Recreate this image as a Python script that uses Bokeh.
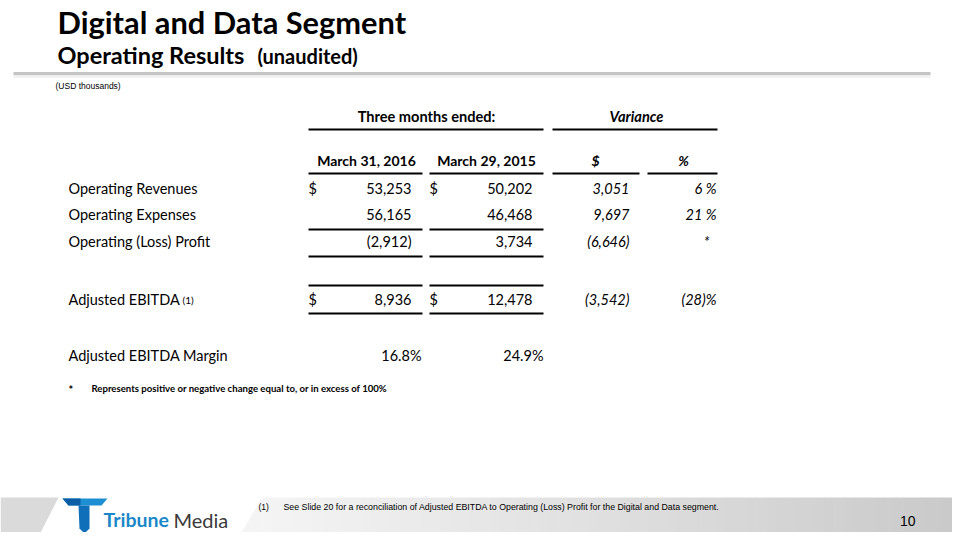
from bokeh.plotting import figure
from bokeh.models import Range1d
from bokeh.core.properties import value
from bokeh.embed import file_html
from bokeh.resources import INLINE

# ---------------- data ----------------
title = "Digital and Data Segment"
subtitle = "Operating Results"
subtitle2 = "(unaudited)"
units = "(USD thousands)"
group_headers = ["Three months ended:", "Variance"]
col_headers = ["March 31, 2016", "March 29, 2015", "$", "%"]
row_labels = ["Operating Revenues", "Operating Expenses", "Operating (Loss) Profit", "Adjusted EBITDA"]
q1_2016 = [53253, 56165, -2912, 8936]
q1_2015 = [50202, 46468, 3734, 12478]
var_dollar = [3051, 9697, -6646, -3542]
var_pct = [6, 21, None, -28]
dollar_sign_rows = [True, False, False, True]
margin_label = "Adjusted EBITDA Margin"
margin_2016 = 16.8
margin_2015 = 24.9
star_note = "Represents positive or negative change equal to, or in excess of 100%"
foot_note = "See Slide 20 for a reconciliation of Adjusted EBITDA to Operating (Loss) Profit for the Digital and Data segment."
page_no = "10"

CAL = value("Lato")
ARI = value("Liberation Sans")


def fmt(v):
    return f"({abs(v):,})" if v < 0 else f"{v:,}"


def fmt_pct(v):
    if v is None:
        return "*"
    return f"({abs(v)})%" if v < 0 else f"{v} %"


W, H = 952, 532
p = figure(width=W, height=H, x_range=Range1d(0, W), y_range=Range1d(H, 0),
           output_backend="svg", toolbar_location=None, min_border=0)
p.axis.visible = False
p.grid.visible = False
p.outline_line_color = None
p.background_fill_color = "white"
p.border_fill_color = "white"


def txt(x, y, s, size, align="left", style="normal", color="black", font=CAL, baseline="middle"):
    p.text(x=[x], y=[y], text=[s], text_font=font, text_font_size=f"{size}px",
           text_font_style=style, text_align=align, text_baseline=baseline, text_color=color)


def hline(x0, x1, y, w=2, color="black"):
    p.segment(x0=[x0], y0=[y], x1=[x1], y1=[y], line_width=w, line_color=color)


# ---------------- header ----------------
txt(57, 22, title, 30.8, style="bold")
txt(57, 54, subtitle, 23.5, style="bold")
txt(257, 55, subtitle2, 20, style="bold")
hline(13, 930, 75.5, w=3, color="#ededed")
hline(13, 930, 73, w=3, color="#c4c4c4")
txt(55, 85, units, 8.5, font=ARI)

# ---------------- table ----------------
txt(426, 116, group_headers[0], 14.6, align="center", style="bold")
txt(636, 116, group_headers[1], 14.6, align="center", style="bold italic")
hline(308, 543, 129)
hline(552, 717, 129)

hc = [366, 486, 595, 683]
for i, h in enumerate(col_headers):
    txt(hc[i], 160, h, 14, align="center", style="bold" if i < 2 else "bold italic")
for a, b in [(308, 422), (429, 543), (552, 639), (647, 717)]:
    hline(a, b, 173)

row_y = [188, 214, 241, 299]
for i, lab in enumerate(row_labels):
    y = row_y[i]
    txt(68, y, lab, 14.5)
    if dollar_sign_rows[i]:
        txt(308, y, "$", 14.5)
        txt(429, y, "$", 14.5)
    txt(411, y, fmt(q1_2016[i]), 14.5, align="right")
    txt(532, y, fmt(q1_2015[i]), 14.5, align="right")
    txt(629, y, fmt(var_dollar[i]), 14.5, align="right", style="italic")
    s = fmt_pct(var_pct[i])
    txt(709 if s == "*" else 716, y, s, 14.5, align="right", style="italic")
txt(182, 299, "(1)", 10)

for ly in [229, 256, 285, 313]:
    hline(308, 422, ly)
    hline(429, 543, ly)

txt(68, 355, margin_label, 14.5)
txt(421, 355, f"{margin_2016}%", 14.5, align="right")
txt(543, 355, f"{margin_2015}%", 14.5, align="right")

txt(68, 389, "*", 11, style="bold")
txt(91, 388, star_note, 9.6, style="bold")

# ---------------- footer band ----------------
n = 70
x_start, x_end = 262, W
c0, c1 = (244, 244, 244), (202, 202, 202)
p.patch(x=[236, 262, 262], y=[540, 497, 540], fill_color="#f4f4f4", line_color=None)
xs_l, xs_r, cols = [], [], []
for k in range(n):
    a = x_start + (x_end - x_start) * k / n
    b = x_start + (x_end - x_start) * (k + 1) / n
    t = k / (n - 1)
    c = tuple(int(round(c0[j] + (c1[j] - c0[j]) * t)) for j in range(3))
    xs_l.append(a)
    xs_r.append(b + 0.6)
    cols.append("#%02x%02x%02x" % c)
p.quad(left=xs_l, right=xs_r, top=[497] * n, bottom=[540] * n, fill_color=cols, line_color=None)
p.patch(x=[0, 58, 36, 0], y=[497, 497, 540, 540], fill_color="#dadada", line_color=None)

# logo
p.patch(x=[62, 107, 101, 68], y=[498, 498, 505, 505], fill_color="#1d8fd2", line_color=None)
p.patch(x=[62, 80, 80, 68], y=[498, 498, 505, 505], fill_color="#0b5ea6", line_color=None)
p.patch(x=[78, 89, 89, 84, 79], y=[505, 505, 528, 533, 528], fill_color="#0f6fb9", line_color=None)
txt(103, 519, "Tribune", 19.5, style="bold", color="#1a87c9")
txt(173, 519, "Media", 20, color="#3a3a3a")

txt(258, 506, "(1)", 8.5, font=ARI)
txt(283, 506, foot_note, 8.8, font=ARI)
txt(915, 520, page_no, 14, align="right", font=ARI)

open("out.html", "w").write(file_html(p, INLINE))
